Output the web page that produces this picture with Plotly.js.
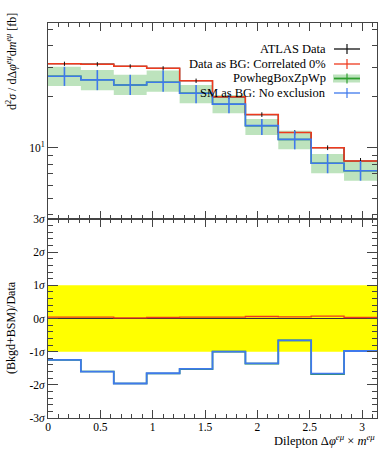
<!DOCTYPE html>
<html>
<head>
<meta charset="utf-8">
<script src="https://cdn.plot.ly/plotly-3.0.1.min.js"></script>
<style>
html,body{margin:0;padding:0;background:#fff;}
#chart{width:389px;height:450px;}
</style>
</head>
<body>
<div id="chart"></div>
<script>
// ---- data ----
const binEdges = [0, 0.314, 0.628, 0.942, 1.257, 1.571, 1.885, 2.199, 2.513, 2.827, 3.1416];
const atlasData = [31.4, 31.2, 30.3, 29.5, 24.9, 20.0, 15.7, 12.3, 10.0, 8.34];
const atlasErr = [0.9, 0.9, 0.85, 0.85, 0.75, 0.6, 0.5, 0.4, 0.32, 0.35];
const dataAsBG = [31.4, 31.2, 30.3, 29.5, 24.9, 20.0, 15.7, 12.3, 10.0, 8.34];
const powheg = [26.5, 25.2, 23.5, 24.4, 21.0, 18.1, 13.5, 11.2, 8.09, 7.31];
const powhegHi = [30.1, 28.8, 27.0, 28.6, 23.5, 20.5, 14.8, 12.6, 9.18, 8.34];
const powhegLo = [23.2, 21.9, 20.5, 21.4, 18.3, 16.0, 11.9, 9.78, 7.06, 6.38];
const smAsBG = [26.5, 25.2, 23.5, 24.4, 21.0, 18.1, 13.5, 11.2, 8.09, 7.31];
const smHi = [30.1, 28.8, 27.0, 28.6, 23.5, 20.5, 14.8, 12.6, 9.18, 8.34];
const smLo = [23.2, 21.9, 20.5, 21.4, 18.3, 16.0, 11.9, 9.78, 7.06, 6.38];

const ratioData = [0, 0, 0, 0, 0, 0, 0, 0, 0, 0];
const ratioDataAsBG = [0.04, 0.04, 0.02, 0.03, 0.04, 0.04, 0.06, 0.05, 0.07, 0.03];
const ratioPowheg = [-1.25, -1.60, -1.96, -1.66, -1.53, -1.00, -1.36, -0.66, -1.68, -0.98];
const ratioSM = [-1.25, -1.60, -1.96, -1.65, -1.52, -1.00, -1.35, -0.66, -1.66, -0.98];

const legendLabels = ['ATLAS Data', 'Data as BG: Correlated 0%', 'PowhegBoxZpWp', 'SM as BG: No exclusion'];
const xTickVals = [0, 0.5, 1, 1.5, 2, 2.5, 3];
const xTickText = ['0', '0.5', '1', '1.5', '2', '2.5', '3'];
const sigmaTickVals = [-3, -2, -1, 0, 1, 2, 3];
const sigmaTickText = ['-3<i>σ</i>', '-2<i>σ</i>', '-1<i>σ</i>', '0<i>σ</i>', '1<i>σ</i>', '2<i>σ</i>', '3<i>σ</i>'];
const logMinorVals = [4, 5, 6, 7, 8, 9, 20, 30, 40, 50];

// ---- helpers ----
const stepY = v => v.concat([v[v.length - 1]]);
const centers = binEdges.slice(0, -1).map((e, i) => (e + binEdges[i + 1]) / 2);

const RED = '#ee3a1e', BLUE = '#3f79ec', GREEN = '#2f9e2f', BAND = '#bde3bd', BLACK = '#111';
const FONT = 'Liberation Serif, serif';

function stepTrace(y, color, width, xa, ya, extra) {
  return Object.assign({
    x: binEdges, y: stepY(y), xaxis: xa, yaxis: ya, mode: 'lines',
    line: {shape: 'hv', color: color, width: width}, showlegend: false, hoverinfo: 'skip'
  }, extra || {});
}
function errTrace(y, hi, lo, color, width, xa, ya) {
  return {
    x: centers, y: y, xaxis: xa, yaxis: ya, mode: 'markers',
    marker: {size: 0.1, color: color, opacity: 0},
    error_y: {type: 'data', symmetric: false,
      array: hi.map((h, i) => h - y[i]), arrayminus: lo.map((l, i) => y[i] - l),
      color: color, thickness: width, width: 0},
    showlegend: false, hoverinfo: 'skip'
  };
}

const traces = [
  stepTrace(powhegLo, BAND, 0, 'x', 'y'),
  stepTrace(powhegHi, BAND, 0, 'x', 'y', {fill: 'tonexty', fillcolor: BAND}),
  stepTrace(powheg, GREEN, 1.5, 'x', 'y'),
  stepTrace(atlasData, BLACK, 1.2, 'x', 'y'),
  stepTrace(dataAsBG, RED, 1.5, 'x', 'y'),
  errTrace(atlasData, atlasData.map((v, i) => v + atlasErr[i]), atlasData.map((v, i) => v - atlasErr[i]), BLACK, 1, 'x', 'y'),
  stepTrace(smAsBG, BLUE, 1.6, 'x', 'y'),
  errTrace(smAsBG, smHi, smLo, BLUE, 1.6, 'x', 'y'),
  stepTrace(ratioData, '#333', 1.2, 'x2', 'y2'),
  stepTrace(ratioDataAsBG, RED, 1.3, 'x2', 'y2'),
  stepTrace(ratioPowheg, GREEN, 1.6, 'x2', 'y2'),
  stepTrace(ratioSM, BLUE, 1.8, 'x2', 'y2')
];

const L = 48, R = 377, T = 23, B = 418;
const px = x => (x - L) / (R - L);
const py = y => (B - y) / (B - T);

const legendRowsY = [49, 64, 78.5, 93];
const legendColors = [BLACK, RED, GREEN, BLUE];
const shapes = [
  {type: 'rect', xref: 'x2 domain', yref: 'y2', x0: 0, x1: 1, y0: -1, y1: 1,
   fillcolor: '#ffff00', line: {width: 0}, layer: 'below'}
];
const annotations = [];
legendLabels.forEach((lab, i) => {
  const yy = legendRowsY[i];
  annotations.push({xref: 'paper', yref: 'paper', x: px(328), y: py(yy), xanchor: 'right', yanchor: 'middle',
    text: lab, showarrow: false, font: {family: FONT, size: 12.5, color: '#000'}});
  if (i === 2) {
    shapes.push({type: 'rect', xref: 'paper', yref: 'paper', x0: px(333), x1: px(360), y0: py(yy + 4), y1: py(yy - 4),
      fillcolor: BAND, line: {width: 0}});
  }
  shapes.push({type: 'line', xref: 'paper', yref: 'paper', x0: px(334), x1: px(360), y0: py(yy), y1: py(yy),
    line: {color: legendColors[i], width: i === 2 ? 1.8 : 1.3}});
  shapes.push({type: 'line', xref: 'paper', yref: 'paper', x0: px(347), x1: px(347), y0: py(yy - 5), y1: py(yy + 5),
    line: {color: legendColors[i], width: 1.2}});
});
annotations.push({xref: 'paper', yref: 'paper', x: px(12), y: py(62), xanchor: 'center', yanchor: 'middle', textangle: -90,
  text: 'd<sup>2</sup><i>σ</i> / dΔ<i>φ</i><sup><i>eμ</i></sup>d<i>m</i><sup><i>eμ</i></sup> [fb]', showarrow: false,
  font: {family: FONT, size: 12, color: '#000'}});
annotations.push({xref: 'paper', yref: 'paper', x: px(11), y: py(328), xanchor: 'center', yanchor: 'middle', textangle: -90,
  text: '(Bkgd+BSM)/Data', showarrow: false, font: {family: FONT, size: 12, color: '#000'}});
annotations.push({xref: 'paper', yref: 'paper', x: 1, y: py(440), xanchor: 'right', yanchor: 'middle',
  text: 'Dilepton Δ<i>φ</i><sup><i>eμ</i></sup> × <i>m</i><sup><i>eμ</i></sup>', showarrow: false,
  font: {family: FONT, size: 12.5, color: '#000'}});

const axisCommon = {
  showline: true, linecolor: '#444', linewidth: 1, mirror: 'allticks', ticks: 'inside', tickcolor: '#444',
  showgrid: false, zeroline: false, tickfont: {family: FONT, size: 11.5, color: '#000'}
};
const upperDomain = [py(219), 1];
const lowerDomain = [0, py(219)];

const layout = {
  width: 389, height: 450,
  margin: {l: L, r: 389 - R, t: T, b: 450 - B},
  paper_bgcolor: '#fff', plot_bgcolor: '#fff',
  font: {family: FONT},
  showlegend: false,
  xaxis: Object.assign({}, axisCommon, {anchor: 'y', domain: [0, 1], range: [0, 3.1416],
    tickmode: 'array', tickvals: xTickVals, showticklabels: false, ticklen: 8,
    minor: {dtick: 0.1, tick0: 0, ticklen: 4, ticks: 'inside', tickcolor: '#444'}}),
  xaxis2: Object.assign({}, axisCommon, {anchor: 'y2', domain: [0, 1], range: [0, 3.1416], matches: 'x',
    tickmode: 'array', tickvals: xTickVals, ticktext: xTickText, ticklen: 8, ticklabelstandoff: -2,
    minor: {dtick: 0.1, tick0: 0, ticklen: 4, ticks: 'inside', tickcolor: '#444'}}),
  yaxis: Object.assign({}, axisCommon, {anchor: 'x', domain: upperDomain, type: 'log', range: [0.578, 1.738],
    tickmode: 'array', tickvals: [10], ticktext: ['10<sup>1</sup>'], ticklen: 10,
    minor: {tickmode: 'array', tickvals: logMinorVals, ticklen: 5, ticks: 'inside', tickcolor: '#444'}}),
  yaxis2: Object.assign({}, axisCommon, {anchor: 'x2', domain: lowerDomain, range: [-3, 3],
    tickmode: 'array', tickvals: sigmaTickVals, ticktext: sigmaTickText, ticklen: 10,
    minor: {dtick: 0.2, tick0: 0, ticklen: 5, ticks: 'inside', tickcolor: '#444'}}),
  shapes: shapes,
  annotations: annotations
};

Plotly.newPlot('chart', traces, layout, {staticPlot: true, displayModeBar: false});
</script>
</body>
</html>
